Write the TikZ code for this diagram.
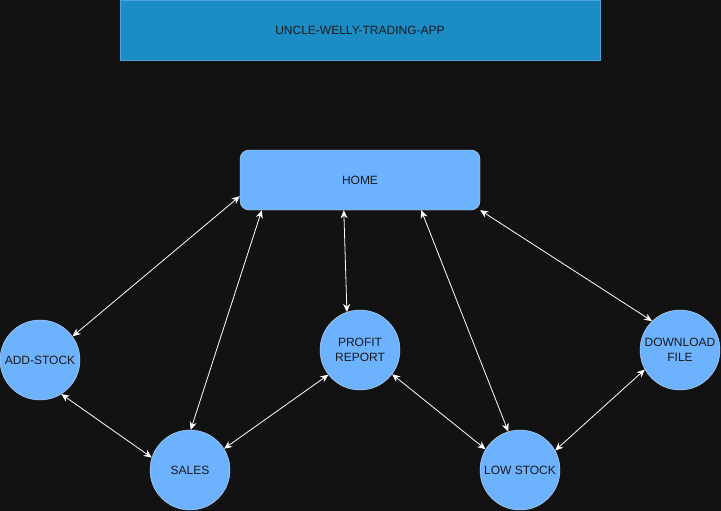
\documentclass[tikz,border=0pt]{standalone}
\usepackage{fontspec}
\setmainfont{Liberation Sans}
\usetikzlibrary{arrows.meta}
\definecolor{bgdark}{HTML}{121212}
\definecolor{titlefill}{HTML}{1B8CC4}
\definecolor{titleline}{HTML}{4AA3E2}
\definecolor{nodefill}{HTML}{6CB2FF}
\definecolor{nodeline}{HTML}{C6DCF6}
\definecolor{textdark}{HTML}{1A1A1A}
\begin{document}
\begin{tikzpicture}[x=1pt, y=-1pt]

\tikzset{title/.style = {rectangle, draw=titleline, fill=titlefill, minimum width=480pt, minimum height=60pt, text=textdark, font=\fontsize{12}{15}\selectfont}}
\tikzset{page/.style = {rectangle, rounded corners=9pt, draw=nodeline, fill=nodefill, minimum width=240pt, minimum height=60pt, text=textdark, font=\fontsize{12}{15}\selectfont}}
\tikzset{vertex/.style = {shape=circle, draw=nodeline, fill=nodefill, minimum size=80pt, inner sep=0pt, align=center, text=textdark, font=\fontsize{12}{15}\selectfont}}
\tikzset{edge/.style = {{Stealth[length=8pt,width=7pt,inset=2.5pt]}-{Stealth[length=8pt,width=7pt,inset=2.5pt]}, draw=white, line width=0.8pt}}

\fill[bgdark] (0,0) rectangle (721,511);
\useasboundingbox (0,0) rectangle (721,511);

%verticies
\node[title] (app) at (360,30) {UNCLE-WELLY-TRADING-APP};
\node[page] (home) at (360,180) {HOME};
\node[vertex] (add) at (40,360) {ADD-STOCK};
\node[vertex] (profit) at (360,350) {PROFIT\\REPORT};
\node[vertex] (download) at (680,350) {DOWNLOAD\\FILE};
\node[vertex] (sales) at (190,470) {SALES};
\node[vertex] (low) at (520,470) {LOW STOCK};

%edges
\draw [edge] ([yshift=14pt]home.south west) -- (add.36);
\draw [edge] ([xshift=22pt]home.south west) -- (sales.89);
\draw [edge] ([xshift=104pt]home.south west) -- (profit.109);
\draw [edge] ([xshift=-59pt]home.south east) -- (low.107);
\draw [edge] (home.south east) -- (download.134);
\draw [edge] (add.302) -- (sales.162);
\draw [edge] (sales.32) -- (profit.218);
\draw [edge] (profit.323) -- (low.149);
\draw [edge] (low.29) -- (download.209);

\end{tikzpicture}
\end{document}
